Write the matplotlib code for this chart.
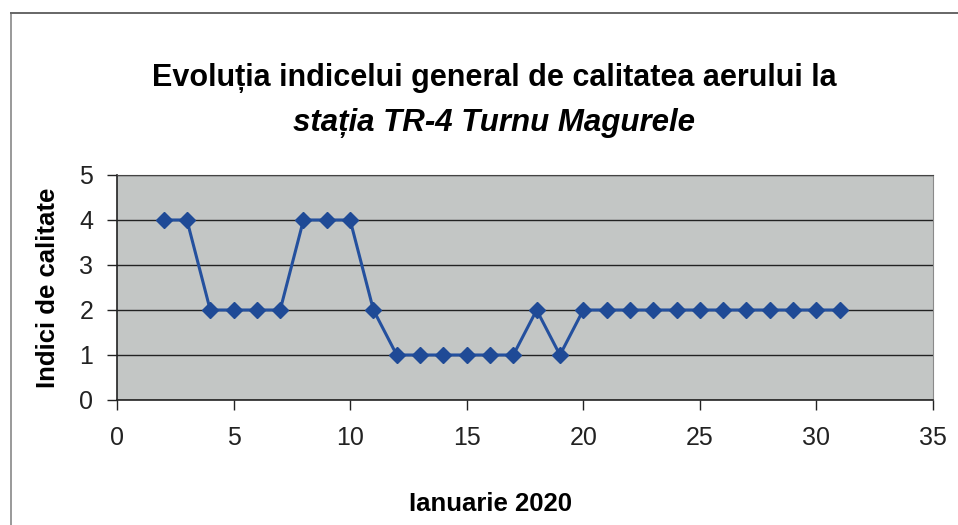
import matplotlib.pyplot as plt

days = list(range(2, 32))
index_values = [4, 4, 2, 2, 2, 2, 4, 4, 4, 2, 1, 1, 1, 1, 1, 1, 2, 1, 2,
                2, 2, 2, 2, 2, 2, 2, 2, 2, 2, 2]

title_line1 = "Evoluția indicelui general de calitatea aerului la"
title_line2 = "stația TR-4 Turnu Magurele"
x_label = "Ianuarie 2020"
y_label = "Indici de calitate"
x_ticks = [0, 5, 10, 15, 20, 25, 30, 35]
y_ticks = [0, 1, 2, 3, 4, 5]

plt.rcParams['font.family'] = ['Liberation Sans', 'DejaVu Sans']

fig = plt.figure(figsize=(9.58, 5.25), dpi=100)
ax = fig.add_axes([0.1221, 0.2381, 0.8518, 0.4286])

# outer chart frame (left and top edges visible in the scan)
fig.add_artist(plt.Line2D([0.012, 0.012], [0.0, 0.975], color='#888888', lw=1.2,
                          transform=fig.transFigure))
fig.add_artist(plt.Line2D([0.012, 1.0], [0.975, 0.975], color='#666666', lw=1.4,
                          transform=fig.transFigure))

ax.set_facecolor('#c3c6c5')
ax.plot(days, index_values, color='#24509e', lw=2.2, marker='D', markersize=8,
        markerfacecolor='#1f4a96', markeredgecolor='#1f4a96', zorder=3)

ax.set_xlim(0, 35)
ax.set_ylim(0, 5)
ax.set_xticks(x_ticks)
ax.set_yticks(y_ticks)
ax.grid(axis='y', color='#222222', lw=1.0)
ax.set_axisbelow(True)

ax.spines['right'].set_color('#8a8a8a')
ax.spines['top'].set_color('#444444')
for side in ['left', 'bottom']:
    ax.spines[side].set_color('#222222')
    ax.spines[side].set_linewidth(1.2)

ax.tick_params(axis='both', direction='out', length=7, width=1.0,
               labelsize=18, colors='#222222')
ax.tick_params(axis='x', pad=12)
ax.tick_params(axis='y', pad=10)

ax.set_xlabel(x_label, fontsize=18.5, fontweight='bold')
ax.xaxis.set_label_coords(0.458, -0.41)
ax.set_ylabel(y_label, fontsize=18.5, fontweight='bold', labelpad=14)
fig.text(0.516, 0.851, title_line1, ha='center', va='center', fontsize=22,
         fontweight='bold')
fig.text(0.516, 0.766, title_line2, ha='center', va='center', fontsize=22.5,
         fontweight='bold', fontstyle='italic')

fig.savefig('out.png', dpi=100)
